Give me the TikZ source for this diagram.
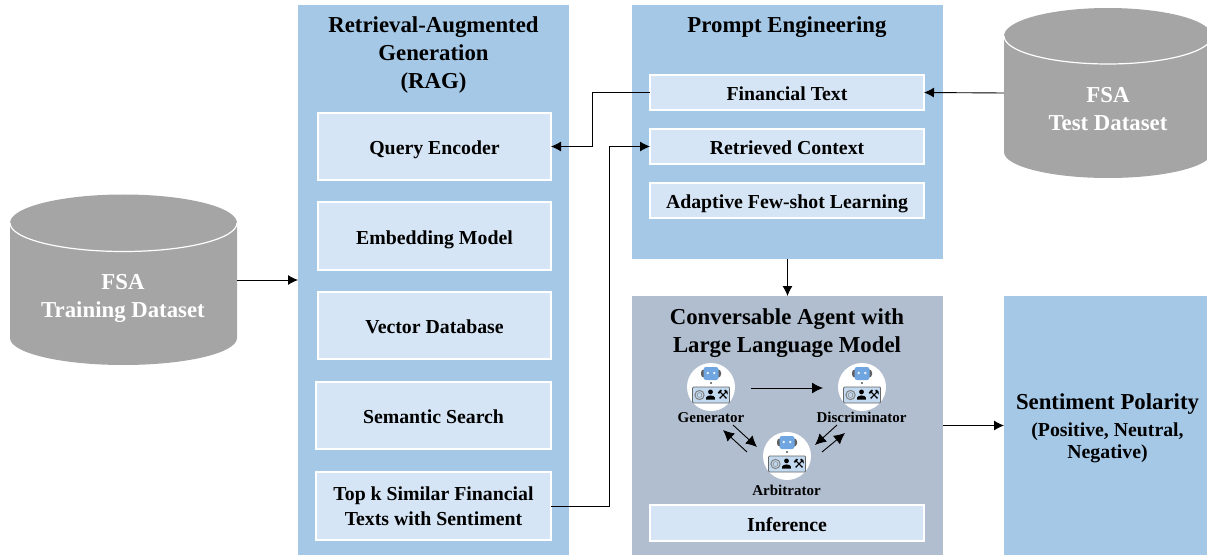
\documentclass[tikz,border=0pt]{standalone}
\usepackage{fontspec}
\setmainfont{Liberation Serif}
\newfontfamily\symfont{DejaVu Sans}
\usetikzlibrary{arrows.meta}
\definecolor{panelblue}{HTML}{A5C8E7}
\definecolor{boxblue}{HTML}{D6E5F5}
\definecolor{agentgray}{HTML}{B1BECF}
\definecolor{cylgray}{HTML}{A5A5A5}
\definecolor{robotblue}{HTML}{6FA5E0}
\tikzset{
  x=1pt,y=-1pt,
  panel/.style={fill=panelblue,inner sep=0,outer sep=0,anchor=north west},
  agentpanel/.style={fill=agentgray,inner sep=0,outer sep=0,anchor=north west},
  itembox/.style={fill=boxblue,draw=white,line width=1.2pt,inner sep=0,outer sep=0,anchor=north west,align=center,font=\bfseries\fontsize{19.8}{24.5}\selectfont},
  oneline/.style={text height=16pt,text depth=0pt},
  titletext/.style={align=center,font=\bfseries\fontsize{22.8}{28}\selectfont},
  cyltext/.style={align=center,text=white,font=\bfseries\fontsize{22.8}{28}\selectfont,inner sep=0,outer sep=0},
  agentlabel/.style={font=\bfseries\fontsize{15}{15}\selectfont,inner sep=0},
  link/.style={draw=black,line width=0.9pt,-{Latex[length=10pt,width=10pt]}},
  minilink/.style={draw=black,line width=0.9pt,-{Latex[length=11pt,width=11pt]}},
  circ/.style={circle,fill=white,minimum size=48pt,inner sep=0,outer sep=0},
  pics/robot/.style={code={
    \fill[gray!75!black,rounded corners=3pt] (-10,-17.5) rectangle (10,-9.5);
    \fill[robotblue,rounded corners=2.5pt] (-7.5,-20) rectangle (7.5,-7);
    \fill[white!85!robotblue] (-3.2,-14) circle (1.4) (3.2,-14) circle (1.4);
    \fill[gray] (-1.2,-5.5) rectangle (1.2,-3.5);
    \draw[gray!80!black,fill=boxblue!60!panelblue,line width=0.7pt,rounded corners=1pt] (-18.5,0) rectangle (18.5,16);
    \draw[gray,line width=1pt] (-11.5,8) circle (4.6);
    \draw[gray,line width=0.5pt] (-11.5,8) circle (2.4);
    \fill[black] (-0.5,4.9) circle (2.4);
    \fill[black] (-4.8,12.5) -- (-4.8,10.5) .. controls (-4,7.8) and (3,7.8) .. (3.8,10.5) -- (3.8,12.5) -- cycle;
    \node[inner sep=0,font=\symfont\fontsize{13}{13}\selectfont] at (12,7.6) {\char"2692};
  }}
}
\begin{document}
\begin{tikzpicture}
\useasboundingbox (0,0) rectangle (1207,556);
% panels
\node[panel,minimum width=271pt,minimum height=550pt] (rag) at (298,5) {};
\node[panel,minimum width=311pt,minimum height=254pt] (pe) at (632,5) {};
\node[agentpanel,minimum width=311pt,minimum height=259pt] (agent) at (632,296) {};
\node[panel,minimum width=203pt,minimum height=259pt] (sent) at (1004,296) {};
% titles
\node[titletext] (ragt) at (433.5,55.5) {Retrieval-Augmented\\Generation\\(RAG)};
\node[titletext] (pet) at (787,27) {Prompt Engineering};
\node[titletext] (agentt) at (787,333) {Conversable Agent with\\Large Language Model};
\node[align=center,inner sep=0,font=\bfseries\fontsize{19.8}{22}\selectfont] (sentt) at (1107.5,428.5) {{\fontsize{22.8}{22}\selectfont Sentiment Polarity}\\[5pt](Positive, Neutral,\\Negative)};
% RAG items
\node[itembox,oneline,minimum width=233pt,minimum height=67pt] (query) at (318,113) {Query Encoder};
\node[itembox,oneline,minimum width=233pt,minimum height=68pt] (embed) at (318,202) {Embedding Model};
\node[itembox,oneline,minimum width=233pt,minimum height=67pt] (vector) at (318,292) {Vector Database};
\node[itembox,oneline,minimum width=235pt,minimum height=67pt] (search) at (316,382) {Semantic Search};
\node[itembox,minimum width=235pt,minimum height=68pt] (topk) at (316,472) {Top k Similar Financial\\Texts with Sentiment};
% PE items
\node[itembox,oneline,minimum width=274pt,minimum height=35pt] (fin) at (650,75) {Financial Text};
\node[itembox,oneline,minimum width=274pt,minimum height=35pt] (ret) at (650,129) {Retrieved Context};
\node[itembox,oneline,minimum width=274pt,minimum height=35pt] (few) at (650,183) {Adaptive Few-shot Learning};
\node[itembox,oneline,minimum width=274pt,minimum height=36pt] (inf) at (650,505) {Inference};
% cylinders
\fill[cylgray] (10,223) -- (10,338) arc[start angle=180,end angle=0,x radius=113.5,y radius=27] -- (237,223) -- cycle;
\fill[cylgray] (10,223) arc[start angle=180,end angle=540,x radius=113.5,y radius=28.5];
\draw[white,line width=1.2pt] (10,223) arc[start angle=180,end angle=0,x radius=113.5,y radius=28.5];
\node[inner sep=0,outer sep=0,minimum width=227pt,minimum height=170pt,anchor=north west] (train) at (10,195) {};
\node[cyltext] (traint) at (123,298) {FSA\\Training Dataset};
\begin{scope}
\clip (0,0) rectangle (1207,556);
\fill[cylgray] (1004,36) -- (1004,152) arc[start angle=180,end angle=0,x radius=104,y radius=26] -- (1212,36) -- cycle;
\fill[cylgray] (1004,36) arc[start angle=180,end angle=540,x radius=104,y radius=28];
\draw[white,line width=1.2pt] (1004,36) arc[start angle=180,end angle=0,x radius=104,y radius=28];
\end{scope}
\node[inner sep=0,outer sep=0,minimum width=203pt,minimum height=170pt,anchor=north west] (test) at (1004,8) {};
\node[cyltext] (testt) at (1108,109.5) {FSA\\Test Dataset};
% agents
\node[circ] (gen) at (711,387) {};
\node[circ] (dis) at (862,387) {};
\node[circ] (arb) at (787,456) {};
\pic at (gen.center) {robot};
\pic at (dis.center) {robot};
\pic at (arb.center) {robot};
\node[agentlabel] (genl) at (711,417.5) {Generator};
\node[agentlabel] (disl) at (861.5,417.5) {Discriminator};
\node[agentlabel] (arbl) at (786.5,490.5) {Arbitrator};
% connectors
\draw[link] (train.east) -- (rag.west);
\draw[link] (test.west) -- (fin.east);
\draw[link] (fin.west) -- (592,92.5) -- (592,146.5) -- (query.east);
\draw[link] (topk.east) -- (609,506) -- (609,146.5) -- (ret.west);
\draw[link] (pe.south) -- (agent.north);
\draw[link] (agent.east) -- (sent.west);
\draw[minilink] ([xshift=16pt,yshift=-1pt]gen.east) -- ([xshift=-15pt,yshift=-1pt]dis.west);
\draw[minilink] ([xshift=22pt,yshift=-38pt]gen.center) -- ([xshift=-30pt,yshift=9pt]arb.center);
\draw[minilink] ([xshift=-40pt,yshift=4pt]arb.center) -- ([xshift=12pt,yshift=-43pt]gen.center);
\draw[minilink] ([xshift=-25pt,yshift=-38pt]dis.center) -- ([xshift=28pt,yshift=11pt]arb.center);
\draw[minilink] ([xshift=35pt,yshift=4pt]arb.center) -- ([xshift=-17pt,yshift=-46pt]dis.center);
\end{tikzpicture}
\end{document}
